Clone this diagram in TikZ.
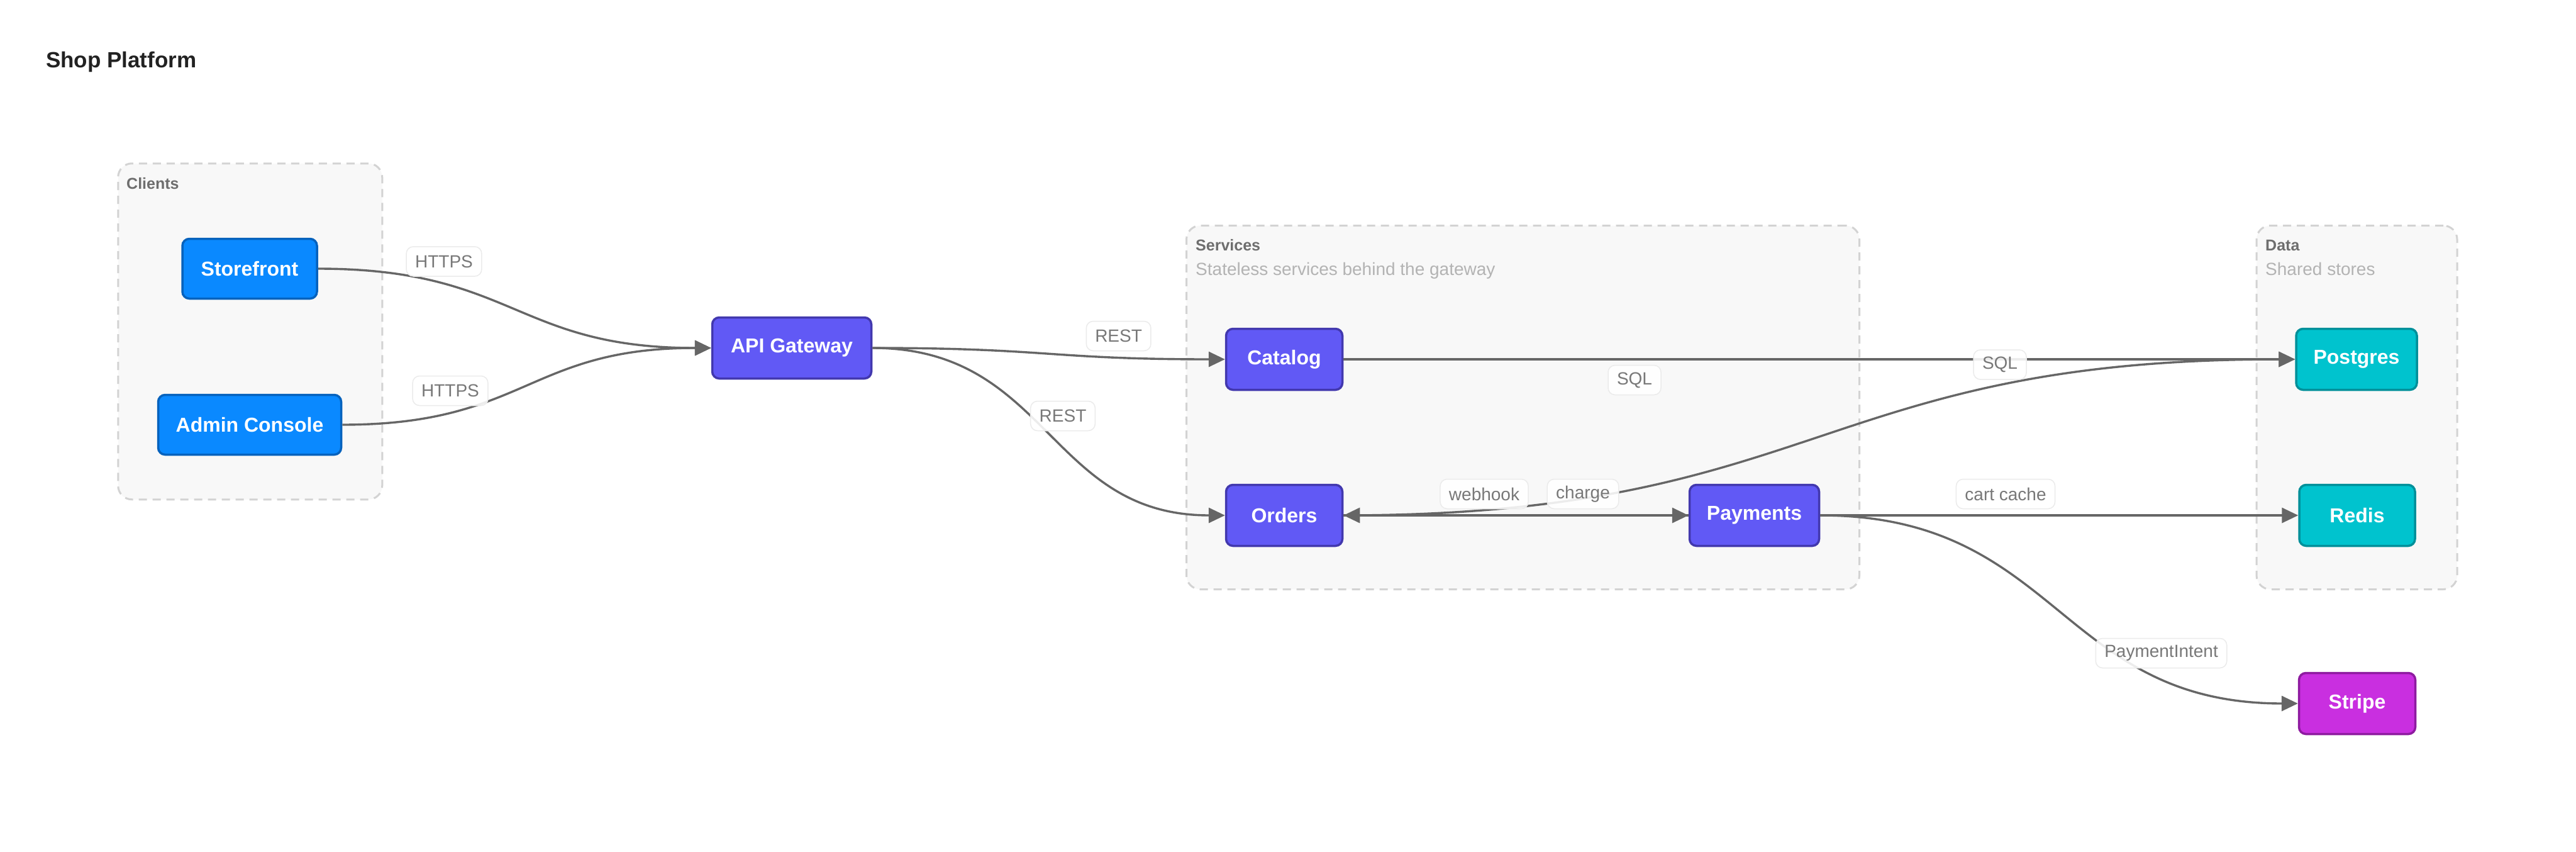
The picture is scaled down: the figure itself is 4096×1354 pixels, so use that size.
\documentclass[tikz,border=0pt]{standalone}
\usepackage{fontspec}
\setmainfont{Liberation Sans}
\usetikzlibrary{arrows.meta}
\definecolor{edgegray}{HTML}{666666}
\definecolor{cblue}{HTML}{0A89FF}
\definecolor{cbluedark}{HTML}{0662BD}
\definecolor{cindigo}{HTML}{6159F5}
\definecolor{cindigodark}{HTML}{4238AE}
\definecolor{ccyan}{HTML}{00C3CE}
\definecolor{ccyandark}{HTML}{00909A}
\definecolor{cmag}{HTML}{C92FE0}
\definecolor{cmagdark}{HTML}{8E1BA0}
\definecolor{groupfill}{HTML}{F8F8F8}
\definecolor{groupline}{HTML}{D3D3D3}
\definecolor{labeltext}{HTML}{787878}
\definecolor{labelline}{HTML}{EBEBEB}
\definecolor{gtitlecol}{HTML}{6E6E6E}
\definecolor{gsubcol}{HTML}{B3B3B3}
\definecolor{titlecol}{HTML}{222222}
\begin{document}
\begin{tikzpicture}[x=1pt,y=-1pt,
  box/.style={rounded corners=11pt, line width=3.5pt, text=white,
    font=\fontsize{32pt}{38pt}\selectfont\bfseries, inner sep=0pt},
  client/.style={box, fill=cblue, draw=cbluedark},
  svc/.style={box, fill=cindigo, draw=cindigodark},
  store/.style={box, fill=ccyan, draw=ccyandark},
  ext/.style={box, fill=cmag, draw=cmagdark},
  grp/.style={rounded corners=22pt, fill=groupfill, draw=groupline, line width=3pt,
    dash pattern=on 13pt off 9pt, inner sep=0pt},
  gtitle/.style={anchor=base west, inner sep=0pt, text=gtitlecol,
    font=\fontsize{25pt}{30pt}\selectfont\bfseries},
  gsub/.style={anchor=base west, inner sep=0pt, text=gsubcol,
    font=\fontsize{28pt}{34pt}\selectfont},
  elabel/.style={rounded corners=11pt, fill=white, fill opacity=0.88, text opacity=1,
    draw=labelline, line width=1.5pt, text=labeltext,
    font=\fontsize{28pt}{34pt}\selectfont, minimum height=47pt,
    inner xsep=14pt, inner ysep=0pt},
  conn/.style={draw=edgegray, line width=3.4pt, -{Triangle[length=26pt,width=24pt]}},
]
\useasboundingbox (0,0) rectangle (4096,1354);
\fill[white] (0,0) rectangle (4096,1354);

% title
\node[anchor=base west, inner sep=0pt, text=titlecol,
  font=\fontsize{35pt}{42pt}\selectfont\bfseries] (title) at (73,107) {Shop Platform};

% groups
\node[grp, minimum width=420pt, minimum height=534pt] (gclients) at (397.75,526.75) {};
\node[grp, minimum width=1070pt, minimum height=578pt] (gservices) at (2421.5,647.5) {};
\node[grp, minimum width=319pt, minimum height=578pt] (gdata) at (3747.5,647.5) {};
\node[gtitle] (tclients) at (201,300) {Clients};
\node[gtitle] (tservices) at (1901,398) {Services};
\node[gsub] (sservices) at (1901,437) {Stateless services behind the gateway};
\node[gtitle] (tdata) at (3602,398) {Data};
\node[gsub] (sdata) at (3602,437) {Shared stores};

% nodes
\node[client, minimum width=214pt, minimum height=95pt] (storefront) at (397,427) {Storefront};
\node[client, minimum width=291pt, minimum height=95pt] (admin) at (397,675) {Admin Console};
\node[svc, minimum width=253pt, minimum height=97pt] (gateway) at (1259,553) {API Gateway};
\node[svc, minimum width=185pt, minimum height=97pt] (catalog) at (2042,571) {Catalog};
\node[svc, minimum width=185pt, minimum height=97pt] (orders) at (2042,819) {Orders};
\node[svc, minimum width=206pt, minimum height=97pt] (payments) at (2789.5,819) {Payments};
\node[store, minimum width=192pt, minimum height=97pt] (postgres) at (3747,571) {Postgres};
\node[store, minimum width=184pt, minimum height=97pt] (redis) at (3748,819) {Redis};
\node[ext, minimum width=185pt, minimum height=97pt] (stripe) at (3748,1118) {Stripe};

% connectors
\draw[conn] (storefront.east) .. controls +(312,0) and +(-312,0) .. (gateway.west);
\draw[conn] (admin.east) .. controls +(292,0) and +(-292,0) .. (gateway.west);
\draw[conn] (gateway.east) .. controls +(281,0) and +(-281,0) .. (catalog.west);
\draw[conn] (gateway.east) .. controls +(281,0) and +(-281,0) .. (orders.west);
\draw[conn] (catalog.east) -- (postgres.west);
\draw[conn] (orders.east) .. controls +(757,0) and +(-757,0) .. (postgres.west);
\draw[conn] (orders.east) -- (payments.west);
\draw[conn] (payments.west) -- (orders.east);
\draw[conn] (payments.east) -- (redis.west);
\draw[conn] (payments.east) .. controls +(380,0) and +(-380,0) .. (stripe.west);

% edge labels
\node[elabel] (lhttps1) at (706,415.5) {HTTPS};
\node[elabel] (lhttps2) at (716,621) {HTTPS};
\node[elabel] (lrest1) at (1778.6,534) {REST};
\node[elabel] (lrest2) at (1690,661) {REST};
\node[elabel] (lsql1) at (2599,604) {SQL};
\node[elabel] (lsql2) at (3180,579.5) {SQL};
\node[elabel] (lwebhook) at (2360,785) {webhook};
\node[elabel] (lcharge) at (2517,785) {charge};
\node[elabel] (lcart) at (3189,785) {cart cache};
\node[elabel] (lpi) at (3436.5,1038) {PaymentIntent};
\end{tikzpicture}
\end{document}
